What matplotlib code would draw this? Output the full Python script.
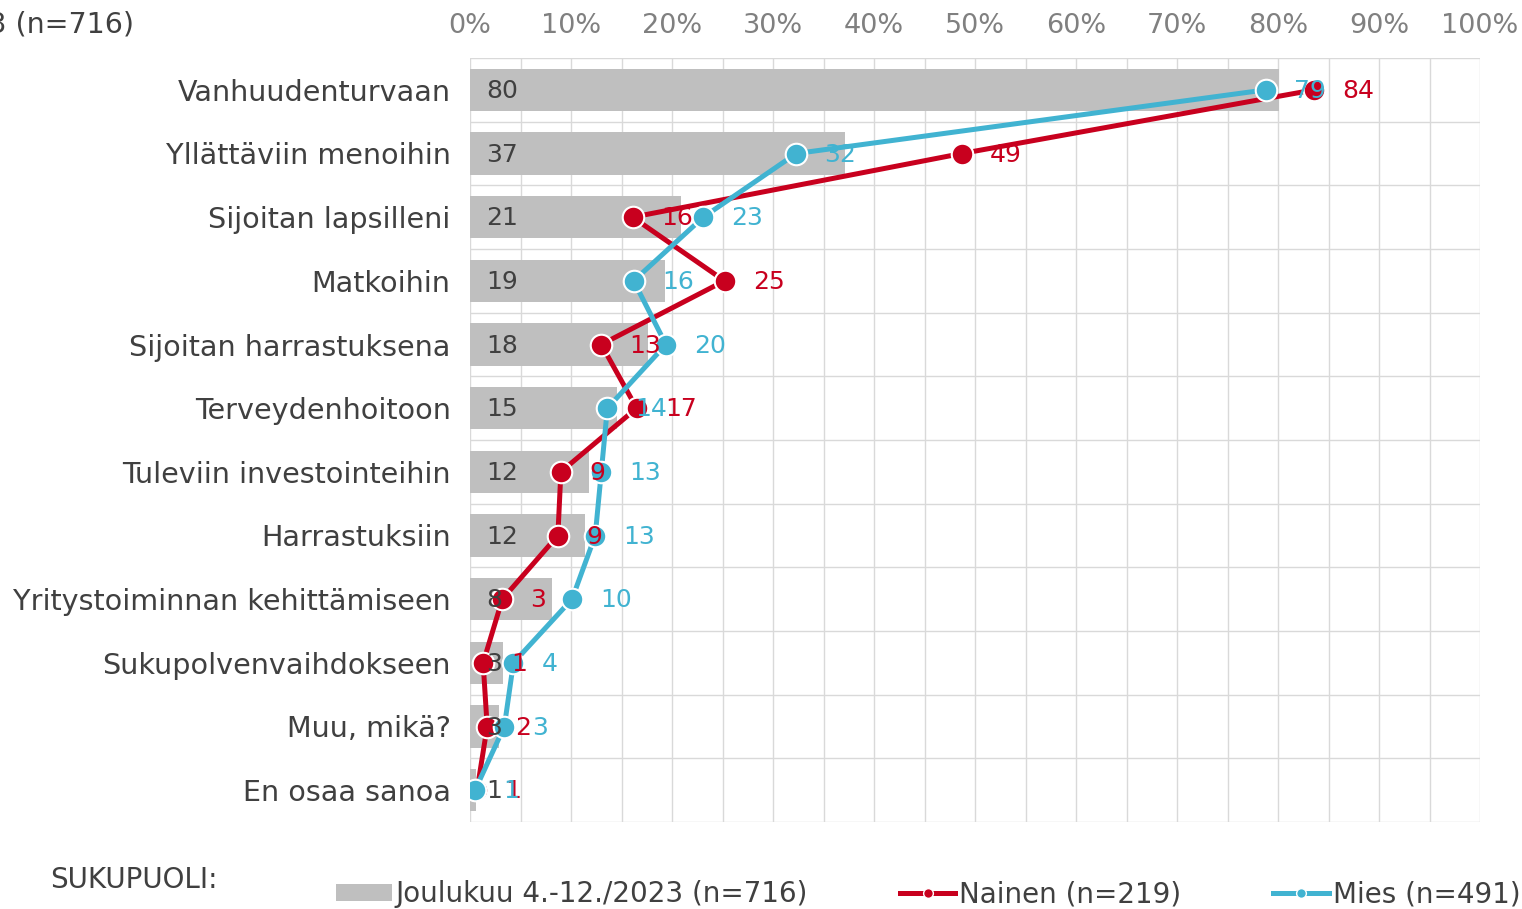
import matplotlib
matplotlib.use("Agg")
import matplotlib.pyplot as plt
from matplotlib.lines import Line2D
from matplotlib.patches import Patch
import numpy as np

plt.rcParams['font.family'] = ['DejaVu Sans']

categories = ["Vanhuudenturvaan", "Yllättäviin menoihin", "Sijoitan lapsilleni", "Matkoihin",
              "Sijoitan harrastuksena", "Terveydenhoitoon", "Tuleviin investointeihin",
              "Harrastuksiin", "Yritystoiminnan kehittämiseen", "Sukupolvenvaihdokseen",
              "Muu, mikä?", "En osaa sanoa"]
total = [80.1, 37.1, 20.9, 19.3, 17.6, 14.6, 11.8, 11.4, 8.1, 3.3, 2.9, 0.6]
nainen = [83.6, 48.7, 16.1, 25.2, 13.0, 16.5, 9.0, 8.7, 3.2, 1.3, 1.7, 0.7]
mies = [78.8, 32.3, 23.1, 16.2, 19.4, 13.6, 13.0, 12.4, 10.1, 4.3, 3.4, 0.5]
total_lbl = [80, 37, 21, 19, 18, 15, 12, 12, 8, 3, 3, 1]
nainen_lbl = [84, 49, 16, 25, 13, 17, 9, 9, 3, 1, 2, 1]
mies_lbl = [79, 32, 23, 16, 20, 14, 13, 13, 10, 4, 3, 1]
ticks = [0, 10, 20, 30, 40, 50, 60, 70, 80, 90, 100]

RED = "#C8001E"
BLUE = "#41B3D1"
GRAY = "#BFBFBF"
TXT = "#404040"

fig = plt.figure(figsize=(15.22, 9.09), dpi=100)
ax = fig.add_axes([470/1522, 1-822/909, 1010/1522, 764/909])

n = len(categories)
y = np.arange(n)
ax.barh(y, total, height=0.66, color=GRAY, zorder=2)
ax.plot(nainen, y, color=RED, lw=3.6, marker='o', ms=15.5, mfc=RED, mec='white', mew=1.5, zorder=4)
ax.plot(mies, y, color=BLUE, lw=3.6, marker='o', ms=15.5, mfc=BLUE, mec='white', mew=1.5, zorder=5)

for i in range(n):
    ax.text(1.6, y[i] + 0.02, str(total_lbl[i]), color=TXT, fontsize=18, va='center', ha='left', zorder=6)
    ax.text(nainen[i] + 2.8, y[i] + 0.02, str(nainen_lbl[i]), color=RED, fontsize=18, va='center', ha='left', zorder=6)
    ax.text(mies[i] + 2.8, y[i] + 0.02, str(mies_lbl[i]), color=BLUE, fontsize=18, va='center', ha='left', zorder=6)

ax.set_xlim(0, 100)
ax.set_ylim(n - 0.5, -0.5)
ax.set_xticks(ticks)
ax.set_xticklabels([f"{t}%" for t in ticks])
ax.set_xticks(np.arange(5, 100, 10), minor=True)
ax.xaxis.tick_top()
ax.tick_params(axis='x', which='both', length=0, pad=14, labelsize=19.5, labelcolor="#808080")
ax.set_yticks(y)
ax.set_yticklabels(categories)
ax.set_yticks(np.arange(-0.5, n, 1), minor=True)
ax.tick_params(axis='y', which='both', length=0, pad=14, labelsize=20.6, labelcolor=TXT)
ax.grid(True, axis='x', which='both', color="#D9D9D9", lw=1, zorder=0)
ax.grid(True, axis='y', which='minor', color="#D9D9D9", lw=1, zorder=0)
ax.grid(False, axis='y', which='major')
for s in ax.spines.values():
    s.set_visible(False)
ax.set_axisbelow(True)

fig.text(135/1522, 1-25/909, "Joulukuu 4.-12./2023 (n=716)", ha='right', va='center', fontsize=20.5, color=TXT)
fig.text(50/1522, 1-880/909, "SUKUPUOLI:", ha='left', va='center', fontsize=20, color=TXT)

handles = [Patch(facecolor=GRAY, edgecolor='none'),
           Line2D([], [], color=RED, lw=3.6, marker='o', ms=7, mfc=RED, mec='white', mew=1),
           Line2D([], [], color=BLUE, lw=3.6, marker='o', ms=7, mfc=BLUE, mec='white', mew=1)]
labels = ["Joulukuu 4.-12./2023 (n=716)", "Nainen (n=219)", "Mies (n=491)"]
leg = fig.legend(handles, labels, ncol=3, loc='center left', bbox_to_anchor=(336/1522, 1-894/909),
                 frameon=False, fontsize=20, handlelength=2.0, handleheight=0.55, handletextpad=0.15,
                 columnspacing=3.3, labelcolor=TXT, borderpad=0, borderaxespad=0)

fig.savefig("out.png", dpi=100, facecolor='white')
